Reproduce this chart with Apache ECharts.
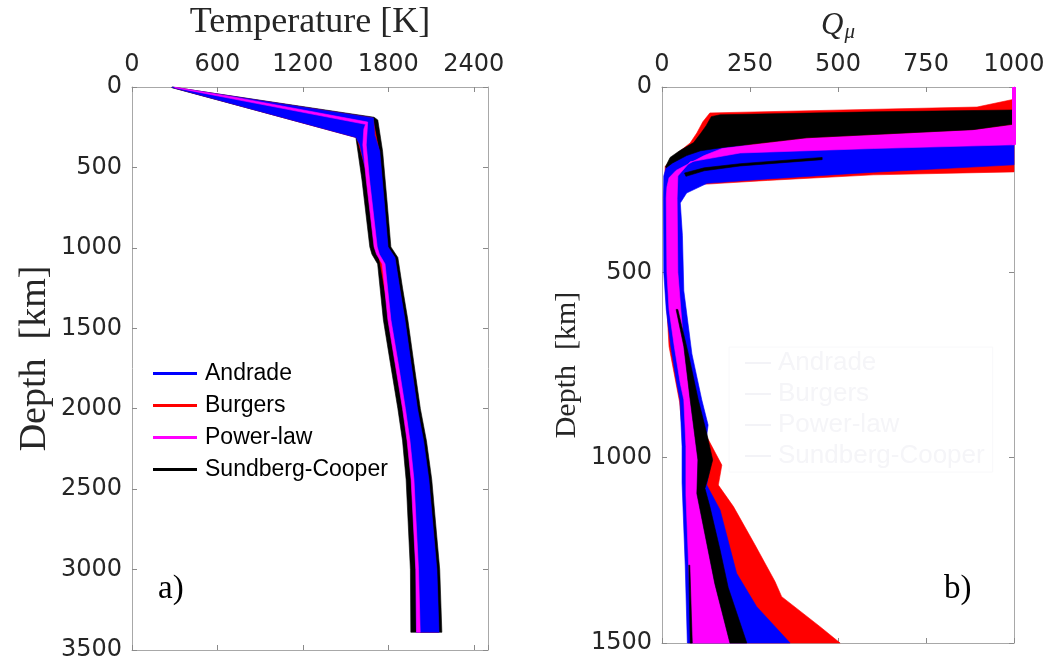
<!DOCTYPE html>
<html>
<head>
<meta charset="utf-8">
<script src="https://cdn.jsdelivr.net/npm/echarts@6/dist/echarts.min.js"></script>
<style>
  html, body { margin: 0; padding: 0; background: #ffffff; }
  #chart { width: 1055px; height: 667px; }
</style>
</head>
<body>
<div id="chart"></div>
<script>
// Rheology models, in legend order
const modelNames = ['Andrade', 'Burgers', 'Power-law', 'Sundberg-Cooper'];
const modelColors = ['#0000ff', '#ff0000', '#ff00ff', '#000000'];

// Axis ticks
const tempTicks = [0, 600, 1200, 1800, 2400];
const depthTicksA = [0, 500, 1000, 1500, 2000, 2500, 3000, 3500];
const qTicks = [0, 250, 500, 750, 1000];
const depthTicksB = [0, 500, 1000, 1500];

// Temperature envelopes of each ensemble, outline as [T (K), depth (km)]
const tempAndrade = [
  [282, 0], [1695, 192], [1705, 300], [1740, 400], [1770, 700], [1798, 994], [1847, 1060],
  [1880, 1250], [1917, 1447], [1960, 1720], [2005, 2000], [2048, 2200], [2085, 2441],
  [2141, 3000], [2156, 3390],
  [1998, 3390], [1995, 3000], [1965, 2441], [1940, 2200], [1909, 2000], [1855, 1720],
  [1807, 1447], [1767, 1100], [1727, 1040], [1712, 994], [1657, 578], [1600, 360],
  [1574, 314], [282, 3]
];
const tempBurgers = [
  [285, 1], [1690, 192], [1735, 400], [1793, 994], [1842, 1060], [1912, 1447], [2000, 2000],
  [2080, 2441], [2136, 3000], [2150, 3390],
  [2005, 3390], [2000, 3000], [1970, 2441], [1914, 2000], [1812, 1447], [1732, 1040],
  [1717, 994], [1662, 578], [1580, 316], [285, 3]
];
const tempPowerLaw = [
  [300, 1], [700, 60], [1655, 218], [1652, 262], [1645, 360], [1668, 578], [1722, 994],
  [1737, 1040], [1777, 1100], [1818, 1447], [1870, 1720], [1920, 2000], [1952, 2200],
  [1980, 2441], [2012, 3000], [2024, 3390],
  [1998, 3390], [1993, 3000], [1960, 2441], [1932, 2200], [1900, 2000], [1848, 1720],
  [1797, 1447], [1757, 1100], [1717, 1040], [1700, 994], [1645, 578], [1621, 360],
  [1628, 262], [1640, 232], [700, 72], [300, 4]
];
const tempSundbergCooper = [
  [280, 0], [1700, 188], [1726, 205], [1760, 400], [1790, 700], [1818, 994], [1867, 1060],
  [1900, 1250], [1937, 1447], [1980, 1720], [2025, 2000], [2068, 2200], [2105, 2441],
  [2161, 3000], [2176, 3390],
  [1958, 3390], [1955, 3000], [1925, 2441], [1900, 2200], [1867, 2000], [1815, 1720],
  [1765, 1447], [1725, 1100], [1685, 1040], [1670, 994], [1615, 578], [1572, 312], [280, 4]
];

// Shear quality factor envelopes, outline as [Q, depth (km)]
const qAndrade = [
  [1000, 140], [600, 148], [173, 160], [110, 168], [70, 182], [30, 202], [12, 216], [5, 240],
  [4, 300], [5, 500], [12, 600], [25, 700], [42, 800], [51, 844], [57, 970], [57, 1068],
  [66, 1292], [72, 1500],
  [364, 1500], [269, 1402], [212, 1312], [165, 1141], [127, 1074], [136, 1024], [127, 940],
  [131, 912], [113, 844], [85, 720], [62, 550], [58, 400], [52, 313], [70, 286], [128, 260],
  [300, 248], [600, 230], [1000, 210]
];
const qBurgers = [
  [1000, 33], [895, 54], [136, 70], [116, 94], [99, 124], [80, 151], [31, 188], [9, 215],
  [6, 300], [8, 500], [20, 700], [50, 850], [60, 950], [66, 1100], [70, 1300], [75, 1500],
  [506, 1500], [449, 1456], [340, 1375], [321, 1334], [264, 1235], [203, 1132], [160, 1074],
  [170, 1020], [127, 943], [100, 850], [60, 600], [45, 400], [45, 300], [45, 262], [128, 262],
  [300, 252], [600, 237], [1000, 229]
];
const qPowerLaw = [
  [1000, 102], [884, 116], [411, 138], [173, 165], [120, 185], [80, 205], [40, 225], [20, 245],
  [14, 270], [12, 300], [14, 500], [20, 600], [35, 700], [52, 800], [62, 844], [68, 970],
  [68, 1100], [76, 1300], [86, 1500],
  [193, 1500], [150, 1340], [99, 1097], [102, 1006], [80, 844], [62, 700], [45, 500],
  [43, 300], [45, 240], [80, 202], [222, 178], [600, 166], [1000, 156]
];
const qPowerLawCap = [[1000, 0], [1000, 156]];
const qSundbergCooperLid = [
  [1000, 62], [600, 67], [165, 75], [140, 80], [125, 105], [110, 125], [90, 150], [50, 172],
  [23, 190], [10, 215], [12, 218], [30, 205], [70, 185], [110, 172], [173, 163], [411, 137],
  [884, 115], [1000, 100]
];
const qSundbergCooperStreak = [
  [455, 190], [455, 196], [222, 213], [120, 226], [68, 241], [64, 232], [120, 218], [222, 207]
];
const qSundbergCooperDeep = [
  [40, 600], [62, 700], [80, 844], [102, 1006], [99, 1097], [150, 1340], [193, 1500],
  [241, 1500], [188, 1350], [165, 1249], [136, 1132], [122, 1083], [132, 1051], [144, 1006],
  [127, 934], [103, 844], [75, 720], [45, 600]
];
const qSundbergCooperEdge = [
  [76, 1290], [80, 1500], [86, 1500], [79, 1290]
];

const AXIS_GREY = '#a8a8a8';
const LABEL = '#262626';
const SERIF = '"Liberation Serif", "DejaVu Serif", serif';
const SANS = '"DejaVu Sans", sans-serif';

// A filled envelope drawn as polygons through the axis scales
function envelope(name, color, polys, axisIdx, z) {
  return {
    type: 'custom',
    name: name,
    xAxisIndex: axisIdx,
    yAxisIndex: axisIdx,
    z: z,
    silent: true,
    animation: false,
    itemStyle: { color: color },
    data: polys.map(p => p[0]),
    renderItem: function (params, api) {
      const pts = polys[params.dataIndex].map(p => api.coord(p));
      return {
        type: 'polygon',
        shape: { points: pts },
        style: { fill: color, stroke: color, lineWidth: 0.6 }
      };
    }
  };
}

function valueAxis(gridIndex, pos, min, max, interval, showLabels, extra) {
  return Object.assign({
    type: 'value',
    gridIndex: gridIndex,
    position: pos,
    min: min,
    max: max,
    interval: interval,
    axisLine: { show: true, onZero: false, lineStyle: { color: AXIS_GREY, width: 1 } },
    axisTick: { show: true, inside: true, length: 5, lineStyle: { color: '#8a8a8a' } },
    splitLine: { show: false },
    axisLabel: {
      show: showLabels,
      color: LABEL,
      fontFamily: SANS,
      fontSize: 24,
      margin: 10,
      formatter: v => String(v)
    }
  }, extra || {});
}

const chart = echarts.init(document.getElementById('chart'), null, { renderer: 'canvas' });

const option = {
  backgroundColor: '#ffffff',
  animation: false,
  grid: [
    { left: 132, top: 87, width: 356, height: 563 },
    { left: 662, top: 87, width: 352, height: 556 }
  ],
  xAxis: [
    valueAxis(0, 'top', 0, 2500, 600, true, {
      name: 'Temperature [K]',
      nameLocation: 'middle',
      nameGap: 46,
      nameTextStyle: { fontFamily: SERIF, fontSize: 36, color: LABEL },
      axisLabel: {
        show: true, color: LABEL, fontFamily: SANS, fontSize: 24, margin: 10,
        showMaxLabel: false, formatter: v => String(v)
      }
    }),
    valueAxis(1, 'top', 0, 1000, 250, true, {
      name: '{q|Q}{mu|μ}',
      nameLocation: 'middle',
      nameGap: 44,
      nameTextStyle: {
        color: LABEL,
        rich: {
          q: { fontFamily: SERIF, fontStyle: 'italic', fontSize: 31, color: LABEL },
          mu: { fontFamily: SERIF, fontStyle: 'italic', fontSize: 21, color: LABEL, padding: [14, 0, 0, 1] }
        }
      }
    }),
    valueAxis(0, 'bottom', 0, 2500, 600, false),
    valueAxis(1, 'bottom', 0, 1000, 250, false)
  ],
  yAxis: [
    valueAxis(0, 'left', 0, 3500, 500, true, {
      inverse: true,
      name: 'Depth  [km]',
      nameLocation: 'middle',
      nameGap: 78,
      nameRotate: 90,
      nameTextStyle: { fontFamily: SERIF, fontSize: 38, color: LABEL, padding: [0, 0, 0, 20] }
    }),
    valueAxis(1, 'left', 0, 1500, 500, true, {
      inverse: true,
      name: 'Depth  [km]',
      nameLocation: 'middle',
      nameGap: 80,
      nameRotate: 90,
      nameTextStyle: { fontFamily: SERIF, fontSize: 30, color: LABEL }
    }),
    valueAxis(0, 'right', 0, 3500, 500, false, { inverse: true }),
    valueAxis(1, 'right', 0, 1500, 500, false, { inverse: true })
  ],
  legend: [
    {
      left: 148,
      top: 357,
      orient: 'vertical',
      itemWidth: 44,
      itemHeight: 3,
      itemGap: 9,
      icon: 'rect',
      selectedMode: false,
      textStyle: { fontFamily: '"Liberation Sans", Arial, sans-serif', fontSize: 23, lineHeight: 23, color: '#000000', padding: [0, 0, 0, 3] },
      data: modelNames.map((n, i) => ({ name: n, itemStyle: { color: modelColors[i] } }))
    },
    {
      left: 729,
      top: 347,
      orient: 'vertical',
      itemWidth: 26,
      itemHeight: 2,
      itemGap: 5,
      icon: 'rect',
      selectedMode: false,
      padding: [3, 8, 3, 16],
      borderColor: '#f8f8fa',
      borderWidth: 1,
      textStyle: { fontFamily: '"Liberation Sans", Arial, sans-serif', fontSize: 26, lineHeight: 25, color: '#f5f5f8', padding: [0, 0, 0, 2] },
      data: modelNames.map(n => ({ name: n, itemStyle: { color: '#f3f3f7' } }))
    }
  ],
  graphic: [
    { type: 'text', left: 158, top: 573, style: { text: 'a)', font: '33px ' + SERIF, fill: '#000000' } },
    { type: 'text', left: 944, top: 573, style: { text: 'b)', font: '33px ' + SERIF, fill: '#000000' } }
  ],
  series: [
    // left panel: temperature
    envelope('Sundberg-Cooper', modelColors[3], [tempSundbergCooper], 0, 1),
    envelope('Burgers', modelColors[1], [tempBurgers], 0, 2),
    envelope('Andrade', modelColors[0], [tempAndrade], 0, 3),
    envelope('Power-law', modelColors[2], [tempPowerLaw], 0, 4),
    // right panel: shear quality factor
    envelope('Burgers', modelColors[1], [qBurgers], 1, 1),
    envelope('Andrade', modelColors[0], [qAndrade], 1, 2),
    envelope('Power-law', modelColors[2], [qPowerLaw], 1, 3),
    envelope('Sundberg-Cooper', modelColors[3],
      [qSundbergCooperLid, qSundbergCooperStreak, qSundbergCooperDeep, qSundbergCooperEdge], 1, 4),
    {
      type: 'line',
      name: 'Power-law',
      xAxisIndex: 1,
      yAxisIndex: 1,
      z: 5,
      clip: false,
      silent: true,
      symbol: 'none',
      lineStyle: { color: modelColors[2], width: 4 },
      data: qPowerLawCap
    }
  ]
};

chart.setOption(option);
</script>
</body>
</html>
